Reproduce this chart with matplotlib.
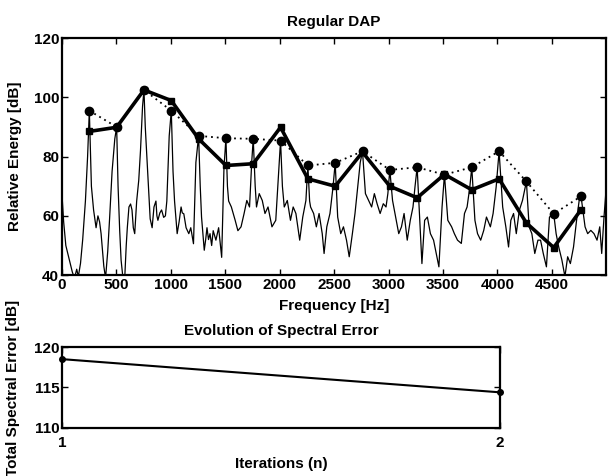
import matplotlib
matplotlib.use("Agg")
import matplotlib.pyplot as plt

plt.rcParams['font.family'] = ['Liberation Sans', 'DejaVu Sans']
plt.rcParams['font.weight'] = 'bold'

# ---- data ----
spec_freq = [0, 15, 35, 55, 75, 95, 115, 135, 150, 170, 190, 215, 235, 251, 270, 290, 313, 330, 345,
             359, 384, 400, 420, 437, 460, 485, 502, 515, 530, 543, 560, 575, 590, 600, 615, 630,
             643, 655, 668, 686, 705, 721, 740, 753, 765, 785, 800, 810, 828, 845, 863, 872, 881,
             899, 915, 934, 950, 963, 985, 1004, 1020, 1034, 1058, 1076, 1094, 1105, 1119, 1140,
             1165, 1183, 1208, 1230, 1255, 1270, 1282, 1307, 1320, 1332, 1346, 1360, 1375, 1389,
             1414, 1439, 1467, 1488, 1506, 1520, 1531, 1556, 1591, 1616, 1645, 1673, 1698, 1723,
             1744, 1757, 1775, 1787, 1812, 1840, 1865, 1893, 1929, 1964, 1993, 2008, 2025, 2042,
             2070, 2099, 2124, 2149, 2184, 2212, 2241, 2259, 2275, 2284, 2312, 2337, 2362, 2391,
             2408, 2433, 2462, 2490, 2510, 2533, 2561, 2586, 2614, 2639, 2668, 2692, 2717, 2740,
             2761, 2788, 2817, 2845, 2870, 2895, 2923, 2952, 2977, 2994, 3012, 3037, 3065, 3094,
             3119, 3143, 3172, 3200, 3225, 3243, 3263, 3286, 3307, 3332, 3357, 3385, 3414, 3438,
             3463, 3492, 3514, 3545, 3580, 3605, 3634, 3669, 3698, 3722, 3747, 3765, 3794, 3818,
             3847, 3875, 3900, 3936, 3961, 3989, 4016, 4049, 4078, 4103, 4124, 4149, 4174, 4202,
             4231, 4267, 4292, 4317, 4344, 4373, 4397, 4422, 4451, 4479, 4518, 4540, 4564, 4593,
             4621, 4646, 4671, 4700, 4728, 4752, 4769, 4806, 4830, 4859, 4888, 4916, 4941, 4959,
             4980, 4994, 5000]
spec_db = [67, 58, 50, 47, 44, 41, 39, 42, 39.5, 44, 52, 65, 80, 95.5, 70, 62, 56, 60, 58,
           54, 43, 39, 48, 59, 75, 86, 90, 70, 55, 45, 39, 38, 50, 56, 63, 64,
           62, 56, 54, 65, 72, 82, 97, 102.5, 90, 76, 65, 59, 56, 63, 65, 60, 58.5,
           61, 62, 59.5, 60, 65, 87, 95.5, 75, 65, 54, 58, 63, 61, 60.7, 56,
           54, 56, 50.6, 78, 87, 70, 59.6, 48.4, 52, 56, 52, 54, 50, 55,
           51.8, 56, 46, 76, 86.2, 70, 65, 63, 58.5, 55, 56.3, 60.8, 65.2, 63,
           78.7, 86, 70, 63, 67.5, 65.2, 60.8, 63, 56.3, 58.5, 76, 85.4, 70, 63,
           65.2, 58.5, 63, 60.8, 51.8, 59.6, 65.2, 77, 65, 63, 60.8, 56.3, 60.8, 54,
           47.3, 56.3, 60.8, 69.7, 77.9, 59.6, 54, 56.3, 51.8, 46.2, 54, 60.8, 69.7, 78,
           81.8, 67.5, 65.2, 63, 67.5, 64.1, 60.8, 64.1, 63, 67.5, 75.5, 65.2, 59.6, 54,
           56.3, 60.8, 51.8, 58.5, 63, 69.7, 76.4, 59.6, 43.9, 58.5, 59.6, 54, 51.8, 47.3,
           42.8, 63, 73.9, 58.5, 56.3, 54, 51.8, 50.7, 60.8, 63, 69.7, 76.4, 58.5, 54,
           51.8, 55.1, 59.6, 56.3, 60.8, 69.7, 81.8, 63, 56.3, 49.5, 58.5, 60.8, 54, 61.9,
           65.2, 71.6, 56.3, 54, 47.3, 51.8, 51.8, 47.3, 42.8, 59.6, 60.7, 54, 49.5, 45.1,
           39.5, 46.2, 43.9, 49.5, 58.5, 65.2, 66.6, 56.3, 54, 55.1, 54, 51.8, 56.3, 47.3,
           59.6, 66.4, 70]

harm_freq = [251, 502, 753, 1004, 1255, 1506, 1757, 2008, 2259, 2510, 2761, 3012, 3263,
             3514, 3765, 4016, 4267, 4518, 4769]
true_db = [95.5, 90, 102.5, 95.5, 87, 86.2, 86, 85.4, 77, 77.9, 81.8, 75.5, 76.4, 73.9,
           76.4, 81.8, 71.6, 60.7, 66.6]
dap_db = [88.5, 89.9, 102.5, 98.9, 86, 77, 77.6, 89.9, 72.5, 70, 81.5, 70, 66.1, 74,
          68.8, 72.5, 57.6, 49.3, 62.1]

freq_ticks = [0, 500, 1000, 1500, 2000, 2500, 3000, 3500, 4000, 4500]
energy_ticks = [40, 60, 80, 100, 120]

iterations = [1, 2]
spectral_error = [118.5, 114.4]
error_ticks = [110, 115, 120]

# ---- figure ----
fig = plt.figure(figsize=(6.08, 4.76), dpi=100)
FS = 11

ax1 = fig.add_axes([0.102, 0.422, 0.895, 0.498])
ax1.plot(spec_freq, spec_db, color='black', lw=0.9)
ax1.plot(harm_freq, true_db, color='black', lw=1.3, ls=(0, (1, 2.2)),
         marker='o', ms=6, mfc='black', mec='black')
ax1.plot(harm_freq, dap_db, color='black', lw=2.6, marker='s', ms=5,
         mfc='black', mec='black')
ax1.set_xlim(0, 5000)
ax1.set_ylim(40, 120)
ax1.set_xticks(freq_ticks)
ax1.set_yticks(energy_ticks)
ax1.set_title('Regular DAP', fontsize=FS, fontweight='bold', pad=8.6)
ax1.set_xlabel('Frequency [Hz]', fontsize=FS, fontweight='bold', labelpad=5)
ax1.set_ylabel('Relative Energy [dB]', fontsize=FS, fontweight='bold')
ax1.yaxis.set_label_coords(-(62 - 22) / (0.895 * 608), 0.5)

ax2 = fig.add_axes([0.102, 0.101, 0.72, 0.170])
ax2.plot(iterations, spectral_error, color='black', lw=1.5, marker='o', ms=4,
         mfc='black', mec='black', clip_on=False)
ax2.set_xlim(1, 2)
ax2.set_ylim(110, 120)
ax2.set_xticks(iterations)
ax2.set_yticks(error_ticks)
ax2.set_title('Evolution of Spectral Error', fontsize=FS, fontweight='bold', pad=9)
ax2.set_xlabel('Iterations (n)', fontsize=FS, fontweight='bold', labelpad=5)
ax2.set_ylabel('Total Spectral Error [dB]', fontsize=FS, fontweight='bold')
ax2.yaxis.set_label_coords(-(62 - 20) / (0.72 * 608), 0.5)

for ax in (ax1, ax2):
    ax.tick_params(direction='in', length=4, width=1, top=True, right=True,
                   labelsize=FS, pad=2, colors='black')
    for lab in ax.get_xticklabels() + ax.get_yticklabels():
        lab.set_fontweight('bold')
    for sp in ax.spines.values():
        sp.set_linewidth(1.6)
        sp.set_color('black')
ax2.tick_params(axis='x', pad=6)

fig.savefig('out.png', dpi=100)
